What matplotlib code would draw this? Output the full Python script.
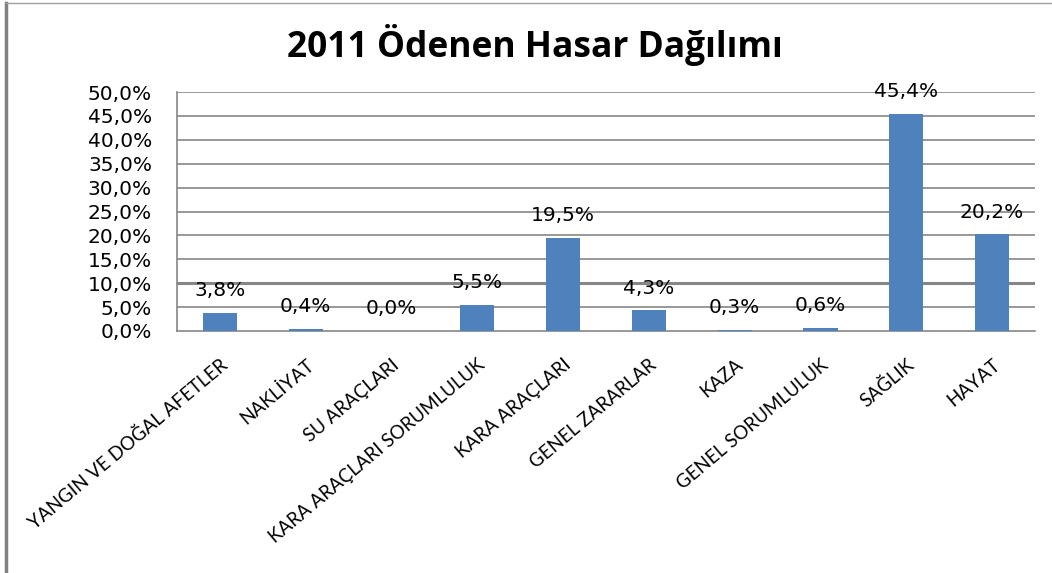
import numpy as np
import matplotlib
matplotlib.use("Agg")
import matplotlib.pyplot as plt
from matplotlib.lines import Line2D

# Veriler
kategoriler = ["YANGIN VE DOĞAL AFETLER", "NAKLİYAT", "SU ARAÇLARI",
               "KARA ARAÇLARI SORUMLULUK", "KARA ARAÇLARI", "GENEL ZARARLAR",
               "KAZA", "GENEL SORUMLULUK", "SAĞLIK", "HAYAT"]
oranlar = [3.8, 0.4, 0.0, 5.5, 19.5, 4.3, 0.3, 0.6, 45.4, 20.2]
y_ticks = [0, 5, 10, 15, 20, 25, 30, 35, 40, 45, 50]

grid_renk = "#868686"
bar_renk = "#4F81BD"

fig = plt.figure(figsize=(10.52, 5.73), dpi=100)
ax = fig.add_axes([177 / 1052, 1 - 331 / 573, 858 / 1052, 239 / 573])

x = np.arange(len(kategoriler))
ax.bar(x, oranlar, width=0.4, color=bar_renk, zorder=3)

ax.set_xlim(-0.5, len(kategoriler) - 0.5)
ax.set_ylim(0, 50)
ax.set_yticks(y_ticks)
ax.set_yticklabels([f"{v:.1f}%".replace(".", ",") for v in y_ticks],
                   fontsize=14.5, family="DejaVu Sans")
for v in y_ticks[1:]:
    ax.axhline(v, color=grid_renk, lw=2.2 if v == 10 else 1.2, zorder=1)

ax.set_xticks(x)
ax.set_xticklabels(kategoriler, rotation=40, ha="right", va="top",
                   rotation_mode="anchor", fontsize=13.5, family="Lato")
ax.tick_params(axis="both", length=0)
ax.tick_params(axis="y", pad=18)
ax.tick_params(axis="x", pad=18)

for s in ["top", "right"]:
    ax.spines[s].set_visible(False)
ax.spines["left"].set_color(grid_renk)
ax.spines["bottom"].set_color(grid_renk)
ax.spines["left"].set_linewidth(1.2)
ax.spines["bottom"].set_linewidth(1.2)

# Değer etiketleri
for xi, v in zip(x, oranlar):
    ax.annotate(f"{v:.1f}%".replace(".", ","), (xi, v), xytext=(0, 16),
                textcoords="offset points", ha="center", va="center",
                fontsize=14.5, family="DejaVu Sans", zorder=4)

fig.text(0.508, 1 - 45 / 573, "2011 Ödenen Hasar Dağılımı", ha="center",
         va="center", fontsize=25.5, fontweight="bold", family="Open Sans")

# Çerçeve
fig.add_artist(Line2D([6 / 1052, 6 / 1052], [0, 1 - 3 / 573],
                      transform=fig.transFigure, color="#808080", lw=2.5))
fig.add_artist(Line2D([6 / 1052, 1], [1 - 3 / 573, 1 - 3 / 573],
                      transform=fig.transFigure, color="#A0A0A0", lw=1))

fig.savefig("out.png", dpi=100)
